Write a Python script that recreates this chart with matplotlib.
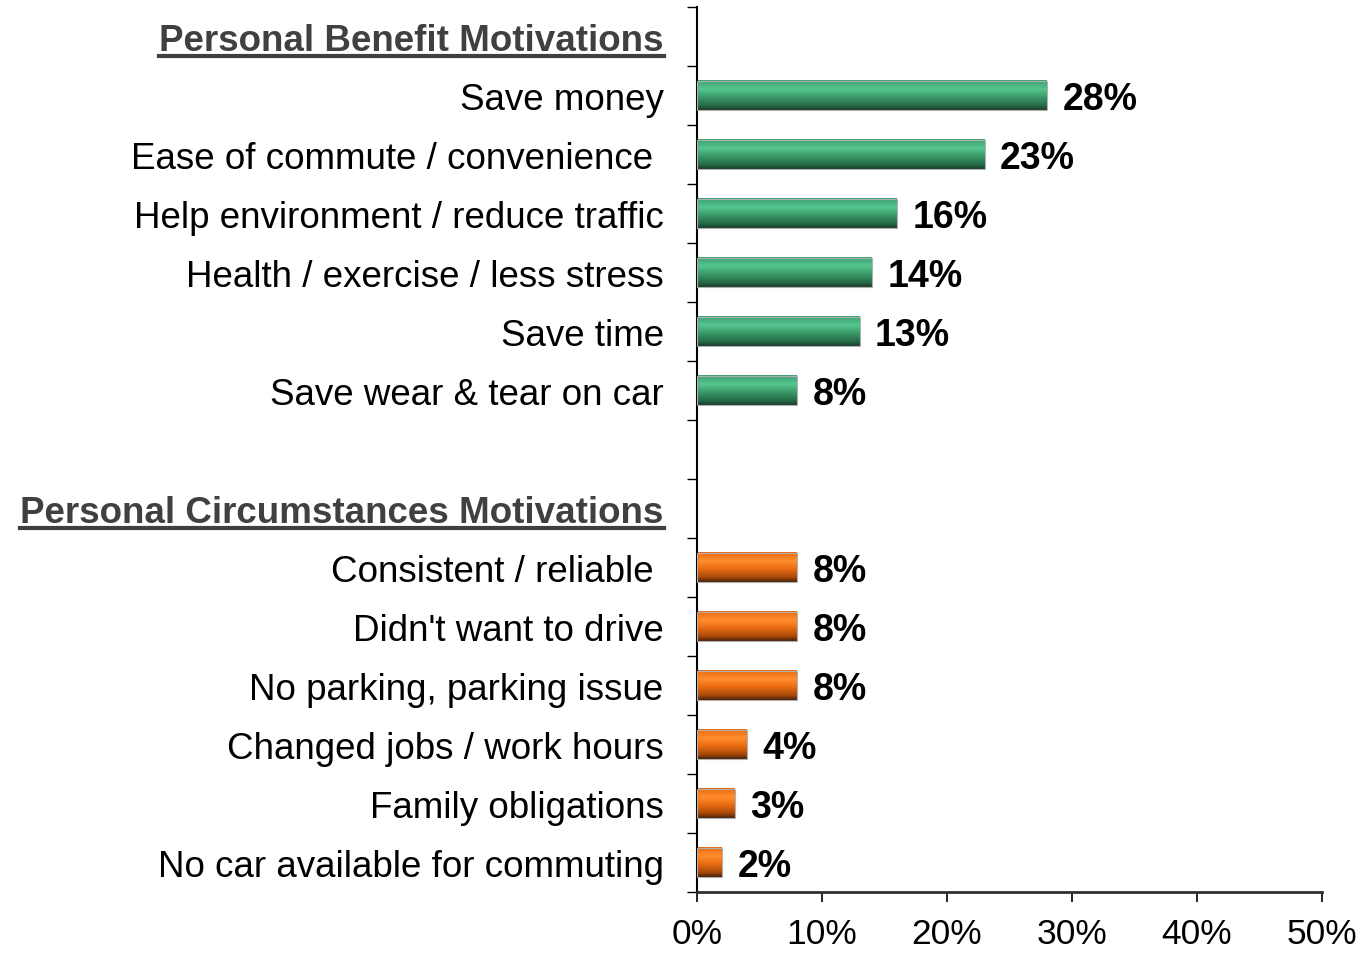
import numpy as np
import matplotlib.pyplot as plt
from matplotlib.colors import LinearSegmentedColormap
from matplotlib.lines import Line2D

plt.rcParams['font.family'] = ['Liberation Sans', 'DejaVu Sans']

# Data (top to bottom)
header_benefit = "Personal Benefit Motivations"
benefit_labels = ["Save money", "Ease of commute / convenience ", "Help environment / reduce traffic",
                  "Health / exercise / less stress", "Save time", "Save wear & tear on car"]
benefit_values = [28, 23, 16, 14, 13, 8]

header_circ = "Personal Circumstances Motivations"
circ_labels = ["Consistent / reliable ", "Didn't want to drive", "No parking, parking issue",
               "Changed jobs / work hours", "Family obligations", "No car available for commuting"]
circ_values = [8, 8, 8, 4, 3, 2]

x_ticks = [0, 10, 20, 30, 40, 50]

# Slot layout: header, 6 bars, blank, header, 6 bars
labels = [header_benefit] + benefit_labels + [""] + [header_circ] + circ_labels
values = [None] + benefit_values + [None, None] + circ_values
groups = [None] + ["g"] * 6 + [None, None] + ["o"] * 6

green_cmap = LinearSegmentedColormap.from_list("g", [
    (0.0, "#3f9f70"), (0.3, "#55c690"), (0.55, "#3c9c6a"), (0.85, "#266c49"), (1.0, "#1b3d2c")])
orange_cmap = LinearSegmentedColormap.from_list("o", [
    (0.0, "#ea6810"), (0.3, "#ff8e2e"), (0.55, "#ec6c12"), (0.85, "#a84a0a"), (1.0, "#4a2208")])

fig = plt.figure(figsize=(13.68, 9.54), dpi=100)
ax = fig.add_axes([697 / 1368, 1 - 893 / 954, 625 / 1368, 885 / 954])

n = len(labels)
ypos = np.arange(n)
bar_h = 0.5
grad = np.linspace(0, 1, 64).reshape(-1, 1)

for y, v, g in zip(ypos, values, groups):
    if v is None:
        continue
    cmap = green_cmap if g == "g" else orange_cmap
    ax.imshow(grad, cmap=cmap, aspect='auto', interpolation='bilinear',
              extent=[0, v, y + bar_h / 2, y - bar_h / 2], zorder=2)
    ax.barh(y, v, height=bar_h, facecolor='none', edgecolor='#b0b0b0', linewidth=0.8, zorder=3)
    ax.annotate(f"{v}%", xy=(v, y), xytext=(11, 0), textcoords='offset points',
                ha='left', va='center_baseline', fontsize=27, fontweight='bold', color='black')

ax.set_xlim(0, 50)
ax.set_ylim(n - 0.5, -0.5)

ax.set_xticks(x_ticks)
ax.set_xticklabels([f"{t}%" for t in x_ticks], fontsize=25.5)
ax.tick_params(axis='x', which='major', direction='out', length=7, width=1.2, pad=11, colors='black')

ax.set_yticks(np.arange(-0.5, n, 1.0))
ax.set_yticklabels([])
ax.set_yticks(ypos, minor=True)
ax.set_yticklabels(labels, minor=True, fontsize=26.5)
ax.tick_params(axis='y', which='major', direction='out', length=7, width=1.0)
ax.tick_params(axis='y', which='minor', length=0, pad=24)

header_idx = [0, 8]
minor_labels = ax.get_yticklabels(minor=True)
for i in header_idx:
    minor_labels[i].set_fontweight('bold')
    minor_labels[i].set_color('#404040')

for side in ['top', 'right']:
    ax.spines[side].set_visible(False)
ax.spines['left'].set_linewidth(1.5)
ax.spines['bottom'].set_linewidth(2.0)
ax.spines['bottom'].set_color('#303030')

# underline the section headers
fig.canvas.draw()
renderer = fig.canvas.get_renderer()
for i in header_idx:
    bb = minor_labels[i].get_window_extent(renderer)
    fx0, fx1 = bb.x0 / fig.bbox.width, bb.x1 / fig.bbox.width
    fy = (bb.y0 + 2) / fig.bbox.height
    fig.add_artist(Line2D([fx0, fx1], [fy, fy], transform=fig.transFigure,
                          color='#404040', linewidth=3))

fig.savefig("out.png", dpi=100)
